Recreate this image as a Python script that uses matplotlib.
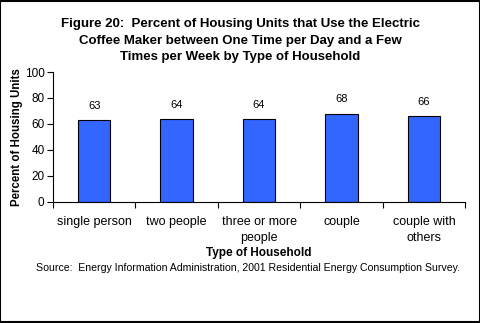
import numpy as np
import matplotlib.pyplot as plt
import matplotlib as mpl

mpl.rcParams['font.family'] = ['Liberation Sans', 'DejaVu Sans']

categories = ['single person', 'two people', 'three or more\npeople', 'couple', 'couple with\nothers']
values = [63, 64, 64, 68, 66]

fig = plt.figure(figsize=(4.81, 3.23), dpi=100)
ax = fig.add_axes([0.110, 0.375, 0.857, 0.402])

x = np.arange(len(categories))
ax.bar(x, values, width=0.39, color='#3366FF', edgecolor='black', linewidth=0.8)
for xi, v in zip(x, values):
    ax.text(xi, v + 7, str(v), ha='center', va='bottom', fontsize=8)

ax.set_xlim(-0.5, len(categories) - 0.5)
ax.set_ylim(0, 100)
ax.set_yticks(range(0, 101, 20))
ax.tick_params(axis='y', labelsize=8.5, length=4, width=0.8, pad=2)
ax.set_xticks(np.arange(-0.5, len(categories), 1))
ax.set_xticklabels([])
ax.set_xticks(x, minor=True)
ax.set_xticklabels(categories, minor=True, fontsize=9, linespacing=1.45)
ax.tick_params(axis='x', which='major', length=4, width=0.8)
ax.tick_params(axis='x', which='minor', length=0, pad=10)
for s in ['top', 'right']:
    ax.spines[s].set_visible(False)
ax.spines['left'].set_linewidth(0.8)
ax.spines['bottom'].set_linewidth(0.8)

ax.set_ylabel('Percent of Housing Units', fontsize=8.3, fontweight='bold', labelpad=1.5)
ax.set_xlabel('Type of Household', fontsize=8.5, fontweight='bold')
ax.xaxis.set_label_coords(0.5, -0.35)

fig.text(0.5, 0.943, 'Figure 20:  Percent of Housing Units that Use the Electric\n'
         'Coffee Maker between One Time per Day and a Few\n'
         'Times per Week by Type of Household',
         ha='center', va='top', fontsize=9.5, fontweight='bold', linespacing=1.5)
fig.text(0.516, 0.170, 'Source:  Energy Information Administration, 2001 Residential Energy Consumption Survey.',
         ha='center', va='center', fontsize=7.6)

fig.patches.append(plt.Rectangle((0.001, 0.002), 0.997, 0.995, transform=fig.transFigure,
                                 fill=False, edgecolor='black', linewidth=1.5))

fig.savefig('out.png', dpi=100)
